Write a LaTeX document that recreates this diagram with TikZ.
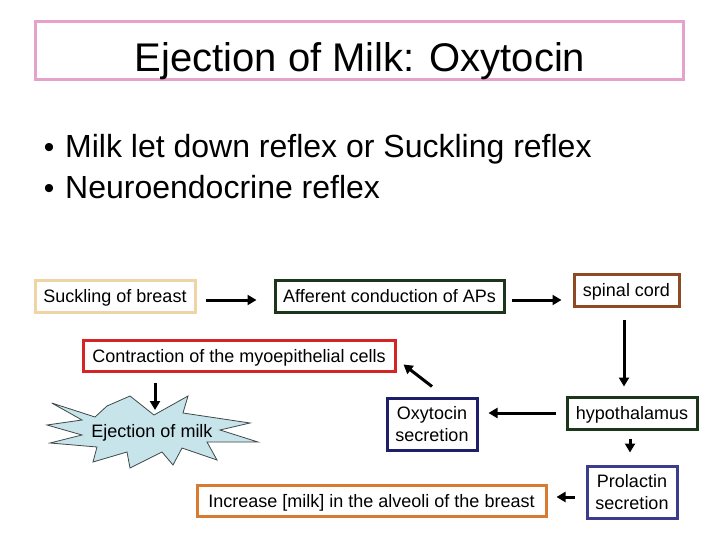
\documentclass[tikz,border=0pt]{standalone}
\usepackage{fontspec}
\setmainfont{Liberation Sans}
\usetikzlibrary{arrows.meta,calc}
\definecolor{titlepink}{HTML}{E6A2CA}
\definecolor{tanb}{HTML}{F0D4A6}
\definecolor{dgreen}{HTML}{1C361C}
\definecolor{brownb}{HTML}{8E4A22}
\definecolor{redb}{HTML}{D42424}
\definecolor{navyb}{HTML}{1E1E6A}
\definecolor{purpb}{HTML}{3C3C8E}
\definecolor{orangeb}{HTML}{D77A32}
\definecolor{starfill}{HTML}{C6E4EA}
\definecolor{stardraw}{HTML}{404848}
\tikzset{
  boxnode/.style={draw, line width=3pt, inner sep=0pt, align=center, font=\fontsize{18}{22}\selectfont},
  onebox/.style={boxnode, text height=13pt, text depth=0pt},
  arr/.style={line width=3pt, -{Triangle[length=9pt,width=10pt]}},
  bigtext/.style={inner sep=0pt, anchor=base west, font=\fontsize{32}{38}\selectfont},
}
\newcommand{\bulletmark}{\makebox[22pt][c]{\fontsize{30}{30}\selectfont •}\hspace{5pt}}
\begin{document}
\begin{tikzpicture}[x=1pt,y=-1pt]
\useasboundingbox (0,0) rectangle (720,540);
\fill[white] (0,0) rectangle (720,540);
% title
\node[draw=titlepink, line width=2.5pt, minimum width=648pt, minimum height=58pt, inner sep=0pt] (titlebox) at (359.5,50.5) {};
\node[inner sep=0pt, anchor=base, font=\fontsize{40}{48}\selectfont] (title) at (360,72) {Ejection of Milk: Oxytocin};
% bullets
\node[bigtext] (b1) at (38,158) {\bulletmark Milk let down reflex or Suckling reflex};
\node[bigtext] (b2) at (38,199) {\bulletmark Neuroendocrine reflex};
% boxes
\node[onebox, draw=tanb, minimum width=160pt, minimum height=32pt] (suck) at (115,296) {Suckling of breast};
\node[onebox, draw=dgreen, minimum width=229pt, minimum height=32pt] (aff) at (389.5,296) {Afferent conduction of APs};
\node[onebox, draw=brownb, minimum width=105pt, minimum height=32pt] (spinal) at (626.5,290) {spinal cord};
\node[onebox, draw=redb, minimum width=312pt, minimum height=31pt] (contr) at (239,355.5) {Contraction of the myoepithelial cells};
\node[boxnode, draw=navyb, minimum width=90pt, minimum height=52pt] (oxy) at (432,424) {Oxytocin\\secretion};
\node[onebox, draw=dgreen, minimum width=130pt, minimum height=32pt] (hypo) at (632,413) {hypothalamus};
\node[boxnode, draw=purpb, minimum width=90pt, minimum height=52pt] (prol) at (632,492) {Prolactin\\secretion};
\node[onebox, draw=orangeb, minimum width=349pt, minimum height=31pt] (incr) at (371.5,500.5) {Increase [milk] in the alveoli of the breast};
% star
\draw[fill=starfill, draw=stardraw, line width=0.8pt]
  (51.7,403) -- (95,417) -- (107,406) -- (130,396) -- (154,415) -- (188,396)
  -- (183,413) -- (250,423) -- (220,430) -- (258,442) -- (207,442)
  -- (217,460) -- (182,448) -- (173,465) -- (162,452) -- (130,468)
  -- (127,452) -- (93,462) -- (97,447) -- (50,443) -- (82,435)
  -- (47,425) -- (82,420) -- cycle;
\node[inner sep=0pt, font=\fontsize{18}{22}\selectfont, text height=13pt, text depth=0pt] (eject) at (152,431) {Ejection of milk};
% arrows
\draw[arr, shorten <=9pt, shorten >=17pt] ([yshift=-4pt]suck.east) -- ([yshift=-4pt]aff.west);
\draw[arr, shorten <=6pt, shorten >=11pt] ([yshift=-4pt]aff.east) -- ([yshift=-4pt]aff.east -| spinal.west);
\draw[arr, shorten <=12pt, shorten >=9pt] ([xshift=-2.5pt]spinal.south) -- ([xshift=-2.5pt]spinal.south |- hypo.north);
\draw[arr, shorten <=10pt, shorten >=10pt] (hypo.west) -- (hypo.west -| oxy.east);
\draw[arr] ($(oxy.north)+(0,-10)$) -- ($(contr.south east)+(7,-8)$);
\draw[arr, shorten <=10pt, shorten >=21pt] ([xshift=3pt]contr.south -| eject.center) -- ([xshift=3pt]eject.center);
\draw[arr, shorten <=8pt, shorten >=12pt] ([xshift=-2pt]hypo.south) -- ([xshift=-2pt]hypo.south |- prol.north);
\draw[arr, shorten <=11pt, shorten >=9pt] ([yshift=-5pt]prol.west) -- ([yshift=-5pt]prol.west -| incr.east);
\end{tikzpicture}
\end{document}
